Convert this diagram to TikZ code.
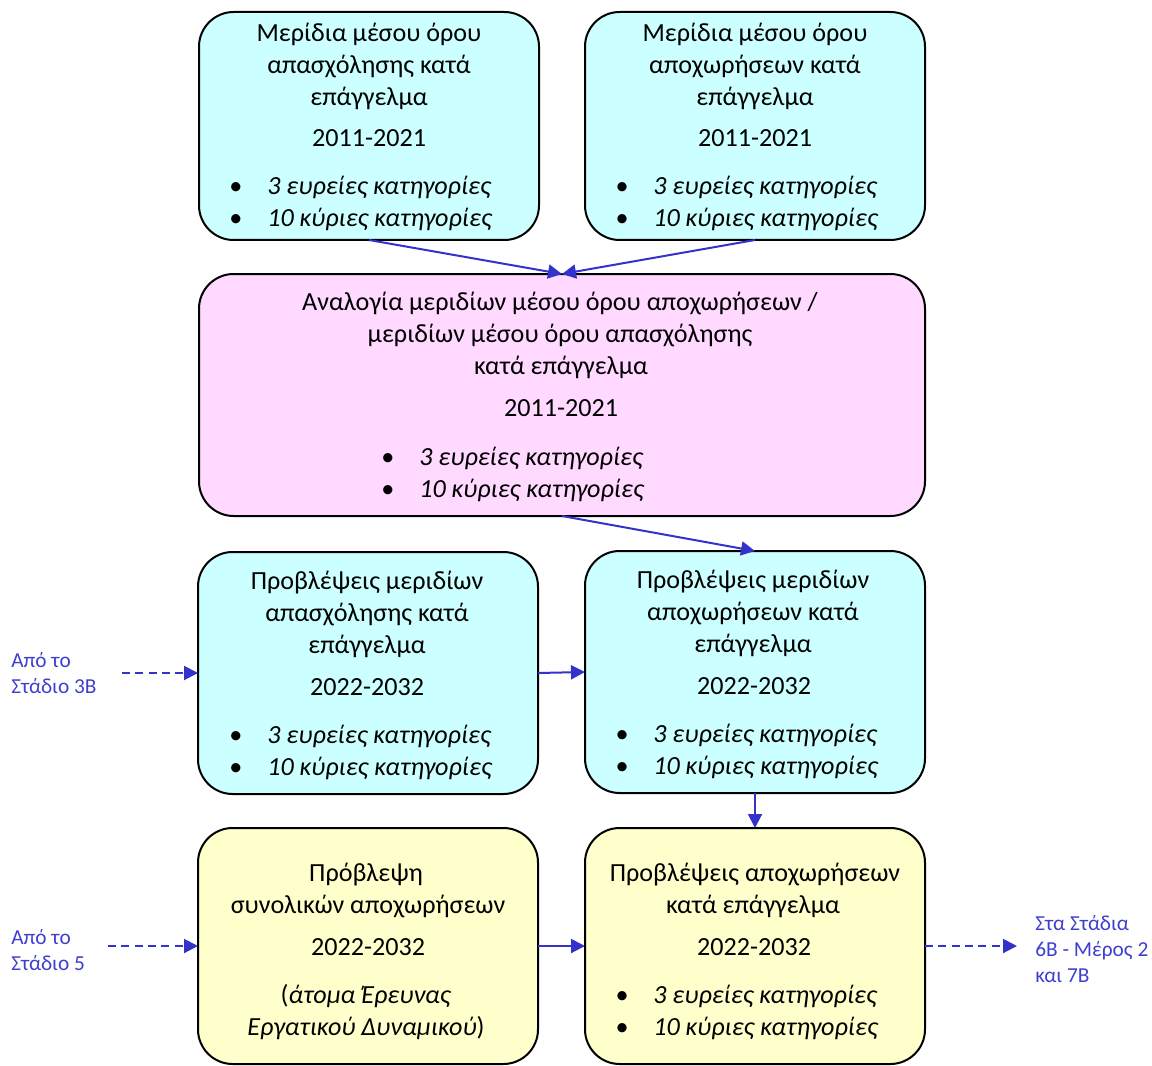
\documentclass[tikz,border=0pt]{standalone}
\usepackage{fontspec}
\setmainfont{Carlito}
\usetikzlibrary{arrows.meta}
\definecolor{cyanfill}{HTML}{CCFFFF}
\definecolor{pinkfill}{HTML}{FFD9FF}
\definecolor{yellowfill}{HTML}{FFFFCC}
\definecolor{arrblue}{HTML}{3333CC}
\definecolor{lblblue}{HTML}{3F3FCF}
\begin{document}
\begin{tikzpicture}[x=0.75pt,y=-0.75pt,
  box/.style={draw=black, line width=1.5pt, rounded corners=26pt, inner sep=0pt, outer sep=0pt},
  wbox/.style={box, minimum width=255pt},
  txt/.style={anchor=base, inner sep=0pt, font=\fontsize{19.6}{23}\selectfont},
  itx/.style={anchor=base west, inner sep=0pt, font=\fontsize{19.6}{23}\selectfont\itshape},
  lbl/.style={anchor=base west, inner sep=0pt, text=lblblue, font=\fontsize{16}{19}\selectfont},
  arr/.style={draw=arrblue, line width=1.5pt, -{Triangle[length=10.5pt,width=10.5pt]}},
  darr/.style={arr, dash pattern=on 6pt off 4pt}
]
\useasboundingbox (0,0) rectangle (1152,1066);

% boxes
\node[wbox, fill=cyanfill, minimum height=171pt] (tl) at (369,126) {};
\node[wbox, fill=cyanfill, minimum height=171pt] (tr) at (755,126) {};
\node[box, fill=pinkfill, minimum width=544.5pt, minimum height=181.5pt] (pk) at (562,395) {};
\node[wbox, fill=cyanfill, minimum height=181.5pt] (ml) at (368,673) {};
\node[wbox, fill=cyanfill, minimum height=181.5pt] (mr) at (755,672) {};
\node[wbox, fill=yellowfill, minimum height=177pt] (yl) at (368,946) {};
\node[wbox, fill=yellowfill, minimum height=177pt] (yr) at (755,946) {};

% top-left text
\node[txt] (tl1) at (369,42) {Μερίδια μέσου όρου};
\node[txt] (tl2) at (369,74) {απασχόλησης κατά};
\node[txt] (tl3) at (369,106) {επάγγελμα};
\node[txt] (tl4) at (369,147) {2011-2021};
\node[txt] (tlb1) at (236,195) {•};
\node[itx] (tlc1) at (267,195) {3 ευρείες κατηγορίες};
\node[txt] (tlb2) at (236,227) {•};
\node[itx] (tlc2) at (267,227) {10 κύριες κατηγορίες};

% top-right text
\node[txt] (tr1) at (755,42) {Μερίδια μέσου όρου};
\node[txt] (tr2) at (755,74) {αποχωρήσεων κατά};
\node[txt] (tr3) at (755,106) {επάγγελμα};
\node[txt] (tr4) at (755,147) {2011-2021};
\node[txt] (trb1) at (622,195) {•};
\node[itx] (trc1) at (653,195) {3 ευρείες κατηγορίες};
\node[txt] (trb2) at (622,227) {•};
\node[itx] (trc2) at (653,227) {10 κύριες κατηγορίες};

% pink text
\node[txt] (pk1) at (560,310) {Αναλογία μεριδίων μέσου όρου αποχωρήσεων /};
\node[txt] (pk2) at (560,342) {μεριδίων μέσου όρου απασχόλησης};
\node[txt] (pk3) at (561,374) {κατά επάγγελμα};
\node[txt] (pk4) at (561,416) {2011-2021};
\node[txt] (pkb1) at (388,465) {•};
\node[itx] (pkc1) at (419,465) {3 ευρείες κατηγορίες};
\node[txt] (pkb2) at (388,497) {•};
\node[itx] (pkc2) at (419,497) {10 κύριες κατηγορίες};

% mid-left text
\node[txt] (ml1) at (367,589) {Προβλέψεις μεριδίων};
\node[txt] (ml2) at (367,621) {απασχόλησης κατά};
\node[txt] (ml3) at (367,653) {επάγγελμα};
\node[txt] (ml4) at (367,695) {2022-2032};
\node[txt] (mlb1) at (236,743) {•};
\node[itx] (mlc1) at (267,743) {3 ευρείες κατηγορίες};
\node[txt] (mlb2) at (236,775) {•};
\node[itx] (mlc2) at (267,775) {10 κύριες κατηγορίες};

% mid-right text
\node[txt] (mr1) at (753,588) {Προβλέψεις μεριδίων};
\node[txt] (mr2) at (753,620) {αποχωρήσεων κατά};
\node[txt] (mr3) at (753,652) {επάγγελμα};
\node[txt] (mr4) at (754,694) {2022-2032};
\node[txt] (mrb1) at (622,742) {•};
\node[itx] (mrc1) at (653,742) {3 ευρείες κατηγορίες};
\node[txt] (mrb2) at (622,774) {•};
\node[itx] (mrc2) at (653,774) {10 κύριες κατηγορίες};

% yellow-left text
\node[txt] (yl1) at (366,881) {Πρόβλεψη};
\node[txt] (yl2) at (368,913) {συνολικών αποχωρήσεων};
\node[txt] (yl3) at (368,955) {2022-2032};
\node[txt] (yl4) at (366,1003) {(\textit{άτομα Έρευνας}};
\node[txt] (yl5) at (366,1035) {\textit{Εργατικού Δυναμικού})};

% yellow-right text
\node[txt] (yr1) at (755,881) {Προβλέψεις αποχωρήσεων};
\node[txt] (yr2) at (753,913) {κατά επάγγελμα};
\node[txt] (yr3) at (754,955) {2022-2032};
\node[txt] (yrb1) at (622,1003) {•};
\node[itx] (yrc1) at (653,1003) {3 ευρείες κατηγορίες};
\node[txt] (yrb2) at (622,1035) {•};
\node[itx] (yrc2) at (653,1035) {10 κύριες κατηγορίες};

% side labels
\node[lbl] (la1) at (11,667) {Από το};
\node[lbl] (la2) at (11,693) {Στάδιο 3Β};
\node[lbl] (lb1) at (11,944) {Από το};
\node[lbl] (lb2) at (11,970) {Στάδιο 5};
\node[lbl] (rc1) at (1035,930) {Στα Στάδια};
\node[lbl] (rc2) at (1035,956) {6Β - Μέρος 2};
\node[lbl] (rc3) at (1035,982) {και 7Β};

% connectors
\coordinate (s1) at (122,673);
\coordinate (s2) at (108,946);
\coordinate (e1) at (1017,946);
\draw[arr] (tl.south) -- (pk.north);
\draw[arr] (tr.south) -- (pk.north);
\draw[arr] (pk.south) -- (mr.north);
\draw[arr] (ml.east) -- (mr.west);
\draw[arr] (mr.south) -- (yr.north);
\draw[arr] (yl.east) -- (yr.west);
\draw[darr] (s1) -- (ml.west);
\draw[darr] (s2) -- (yl.west);
\draw[darr] (yr.east) -- (e1);
\end{tikzpicture}
\end{document}
